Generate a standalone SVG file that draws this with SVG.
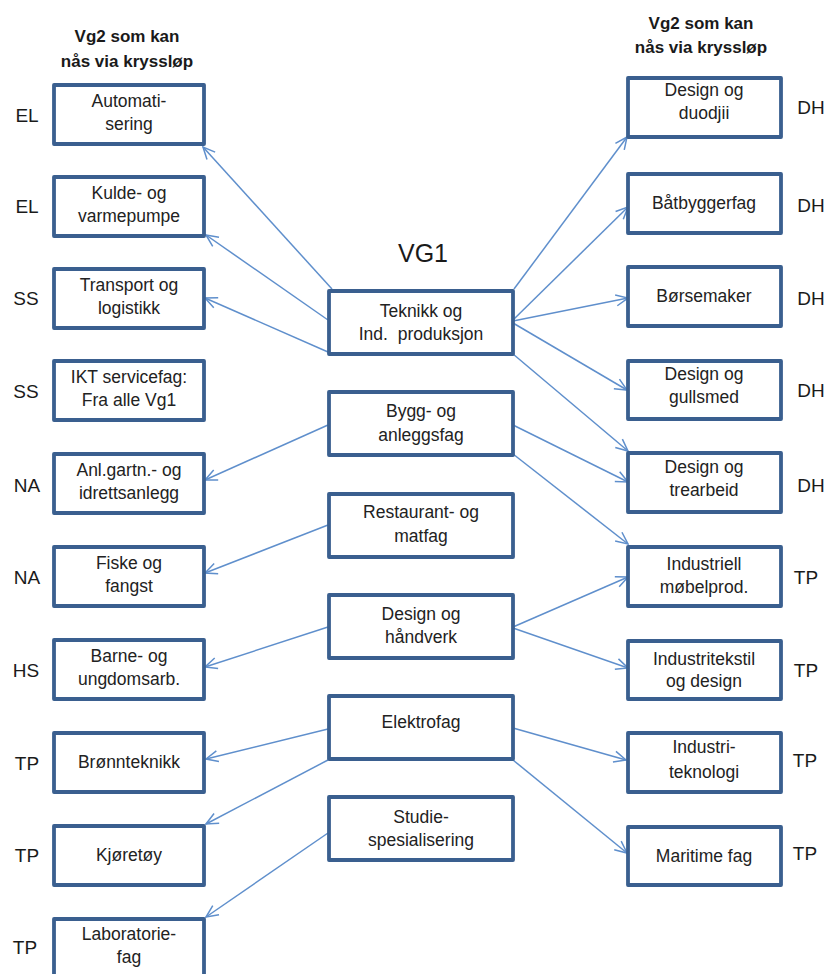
<svg xmlns="http://www.w3.org/2000/svg" width="827" height="974" viewBox="0 0 827 974">
<style>
.box{fill:#ffffff;stroke:#3a5f8f;stroke-width:3.8;stroke-linejoin:round}
.t{font-family:"Liberation Sans",Arial,sans-serif;font-size:17.5px;fill:#222222;text-anchor:middle}
.lab{font-family:"Liberation Sans",Arial,sans-serif;font-size:19px;fill:#1a1a1a;text-anchor:middle}
.hdr{font-family:"Liberation Sans",Arial,sans-serif;font-size:17px;font-weight:bold;fill:#1a1a1a;text-anchor:middle}
.vg1{font-family:"Liberation Sans",Arial,sans-serif;font-size:25px;fill:#1a1a1a;text-anchor:middle}
.c{stroke:#5f8fcc;stroke-width:1.5;fill:none;marker-end:url(#ah)}
</style>
<defs>
<marker id="ah" viewBox="0 0 14 14" refX="13" refY="7" markerWidth="14" markerHeight="14" markerUnits="userSpaceOnUse" orient="auto">
<path d="M1,1.5 L13,7 L1,12.5" fill="none" stroke="#5f8fcc" stroke-width="1.5"/>
</marker>
</defs>

<g id="headers">
<text class="hdr" x="127" y="42">Vg2 som kan</text>
<text class="hdr" x="127" y="67">nås via kryssløp</text>
<text class="hdr" x="701" y="29">Vg2 som kan</text>
<text class="hdr" x="701" y="53">nås via kryssløp</text>
<text class="vg1" x="423" y="262">VG1</text>
</g>

<g id="connectors">
<line class="c" x1="332" y1="289" x2="203" y2="147"/>
<line class="c" x1="328" y1="320" x2="206" y2="235"/>
<line class="c" x1="328" y1="352" x2="205" y2="298"/>
<line class="c" x1="328" y1="425" x2="205" y2="480"/>
<line class="c" x1="328" y1="525" x2="205" y2="573"/>
<line class="c" x1="328" y1="627" x2="205" y2="667"/>
<line class="c" x1="328" y1="729" x2="206" y2="759"/>
<line class="c" x1="328" y1="760" x2="206" y2="824"/>
<line class="c" x1="328" y1="833" x2="206" y2="917"/>
<line class="c" x1="514" y1="289" x2="627" y2="137"/>
<line class="c" x1="513" y1="320" x2="628" y2="207"/>
<line class="c" x1="513" y1="321" x2="628" y2="298"/>
<line class="c" x1="513" y1="323" x2="627" y2="390"/>
<line class="c" x1="513" y1="354" x2="628" y2="451"/>
<line class="c" x1="513" y1="425" x2="628" y2="482"/>
<line class="c" x1="513" y1="454" x2="628" y2="544"/>
<line class="c" x1="513" y1="627" x2="628" y2="577"/>
<line class="c" x1="513" y1="628" x2="628" y2="668"/>
<line class="c" x1="513" y1="728" x2="626" y2="760"/>
<line class="c" x1="513" y1="760" x2="627" y2="853"/>
</g>

<g id="left-automatisering"><rect class="box" x="54" y="85" width="150" height="59"/><text class="t" x="129" y="107">Automati-</text><text class="t" x="129" y="130">sering</text><text class="lab" x="27" y="122">EL</text></g>
<g id="left-kulde"><rect class="box" x="54" y="177" width="150" height="59"/><text class="t" x="129" y="199">Kulde- og</text><text class="t" x="129" y="222">varmepumpe</text><text class="lab" x="27" y="213">EL</text></g>
<g id="left-transport"><rect class="box" x="54" y="269" width="150" height="59"/><text class="t" x="129" y="291">Transport og</text><text class="t" x="129" y="314">logistikk</text><text class="lab" x="26" y="305">SS</text></g>
<g id="left-ikt"><rect class="box" x="54" y="361" width="150" height="59"/><text class="t" x="129" y="383">IKT servicefag:</text><text class="t" x="129" y="406">Fra alle Vg1</text><text class="lab" x="26" y="398">SS</text></g>
<g id="left-anlgartn"><rect class="box" x="54" y="454" width="150" height="59"/><text class="t" x="129" y="476">Anl.gartn.- og</text><text class="t" x="129" y="499">idrettsanlegg</text><text class="lab" x="27" y="492">NA</text></g>
<g id="left-fiske"><rect class="box" x="54" y="547" width="150" height="59"/><text class="t" x="129" y="569">Fiske og</text><text class="t" x="129" y="592">fangst</text><text class="lab" x="27" y="584">NA</text></g>
<g id="left-barne"><rect class="box" x="54" y="640" width="150" height="59"/><text class="t" x="129" y="662">Barne- og</text><text class="t" x="129" y="685">ungdomsarb.</text><text class="lab" x="26" y="677">HS</text></g>
<g id="left-bronn"><rect class="box" x="54" y="733" width="150" height="59"/><text class="t" x="129" y="768">Brønnteknikk</text><text class="lab" x="27" y="770">TP</text></g>
<g id="left-kjoretoy"><rect class="box" x="54" y="826" width="150" height="59"/><text class="t" x="129" y="861">Kjøretøy</text><text class="lab" x="27" y="862">TP</text></g>
<g id="left-laboratorie"><rect class="box" x="54" y="919" width="150" height="59"/><text class="t" x="129" y="940">Laboratorie-</text><text class="t" x="129" y="963">fag</text><text class="lab" x="25" y="954">TP</text></g>

<g id="vg1-teknikk"><rect class="box" x="329" y="291" width="184" height="63"/><text class="t" x="421" y="317">Teknikk og</text><text class="t" x="421" y="340">Ind.&#160; produksjon</text></g>
<g id="vg1-bygg"><rect class="box" x="329" y="392" width="184" height="63"/><text class="t" x="421" y="417">Bygg- og</text><text class="t" x="421" y="441">anleggsfag</text></g>
<g id="vg1-restaurant"><rect class="box" x="329" y="494" width="184" height="63"/><text class="t" x="421" y="518">Restaurant- og</text><text class="t" x="421" y="542">matfag</text></g>
<g id="vg1-design"><rect class="box" x="329" y="595" width="184" height="63"/><text class="t" x="421" y="620">Design og</text><text class="t" x="421" y="643">håndverk</text></g>
<g id="vg1-elektro"><rect class="box" x="329" y="696" width="184" height="63"/><text class="t" x="421" y="728">Elektrofag</text></g>
<g id="vg1-studie"><rect class="box" x="329" y="797" width="184" height="63"/><text class="t" x="421" y="823">Studie-</text><text class="t" x="421" y="846">spesialisering</text></g>

<g id="right-duodjii"><rect class="box" x="628" y="78" width="153" height="59"/><text class="t" x="704" y="96">Design og</text><text class="t" x="704" y="119">duodjii</text><text class="lab" x="811" y="114">DH</text></g>
<g id="right-batbygger"><rect class="box" x="628" y="174" width="153" height="59"/><text class="t" x="704" y="209">Båtbyggerfag</text><text class="lab" x="811" y="212">DH</text></g>
<g id="right-borsemaker"><rect class="box" x="628" y="267" width="153" height="59"/><text class="t" x="704" y="302">Børsemaker</text><text class="lab" x="811" y="305">DH</text></g>
<g id="right-gullsmed"><rect class="box" x="628" y="361" width="153" height="58"/><text class="t" x="704" y="380">Design og</text><text class="t" x="704" y="403">gullsmed</text><text class="lab" x="811" y="397">DH</text></g>
<g id="right-trearbeid"><rect class="box" x="628" y="453" width="153" height="59"/><text class="t" x="704" y="473">Design og</text><text class="t" x="704" y="496">trearbeid</text><text class="lab" x="811" y="492">DH</text></g>
<g id="right-mobelprod"><rect class="box" x="628" y="547" width="153" height="59"/><text class="t" x="704" y="570">Industriell</text><text class="t" x="704" y="593">møbelprod.</text><text class="lab" x="806" y="584">TP</text></g>
<g id="right-industritekstil"><rect class="box" x="628" y="641" width="153" height="58"/><text class="t" x="704" y="665">Industritekstil</text><text class="t" x="704" y="687">og design</text><text class="lab" x="806" y="677">TP</text></g>
<g id="right-industriteknologi"><rect class="box" x="628" y="733" width="153" height="59"/><text class="t" x="704" y="753">Industri-</text><text class="t" x="704" y="778">teknologi</text><text class="lab" x="805" y="767">TP</text></g>
<g id="right-maritime"><rect class="box" x="628" y="827" width="153" height="58"/><text class="t" x="704" y="862">Maritime fag</text><text class="lab" x="805" y="860">TP</text></g>
</svg>
